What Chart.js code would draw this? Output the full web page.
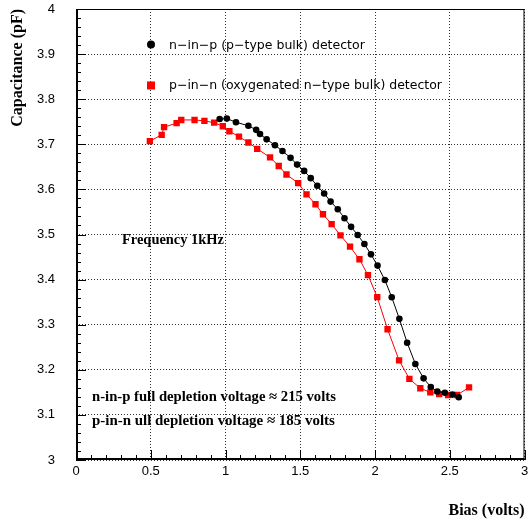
<!DOCTYPE html>
<html>
<head>
<meta charset="utf-8">
<script src="https://cdn.jsdelivr.net/npm/chart.js@4.4.0/dist/chart.umd.min.js"></script>
<style>
  html, body { margin: 0; padding: 0; background: #fff; overflow: hidden; }
  #wrap { width: 529px; height: 521px; position: relative; }
</style>
</head>
<body>
<div id="wrap"><canvas id="c"></canvas></div>
<script>
// ---------------- Data ----------------
const nInPBias = [0.961, 1.009, 1.070, 1.153, 1.205, 1.231, 1.275, 1.331, 1.381, 1.435,
  1.479, 1.526, 1.570, 1.614, 1.660, 1.703, 1.751, 1.796, 1.840, 1.884,
  1.929, 1.973, 2.017, 2.066, 2.112, 2.163, 2.215, 2.270, 2.325, 2.373,
  2.417, 2.467, 2.518, 2.560];
const nInPCap = [3.756, 3.757, 3.749, 3.741, 3.732, 3.723, 3.711, 3.698, 3.685, 3.670,
  3.655, 3.641, 3.625, 3.608, 3.591, 3.573, 3.556, 3.536, 3.517, 3.499,
  3.479, 3.456, 3.431, 3.399, 3.361, 3.313, 3.260, 3.213, 3.181, 3.162,
  3.152, 3.149, 3.145, 3.139];

const pInNBias = [0.494, 0.573, 0.589, 0.673, 0.704, 0.793, 0.859, 0.924, 0.982, 1.026,
  1.090, 1.153, 1.212, 1.298, 1.356, 1.408, 1.486, 1.542, 1.602, 1.652,
  1.710, 1.769, 1.833, 1.896, 1.953, 2.015, 2.084, 2.161, 2.230, 2.303,
  2.370, 2.429, 2.489, 2.549, 2.629];
const pInNCap = [3.707, 3.721, 3.738, 3.747, 3.754, 3.754, 3.752, 3.748, 3.740, 3.729,
  3.717, 3.704, 3.690, 3.671, 3.652, 3.633, 3.614, 3.589, 3.567, 3.545,
  3.523, 3.498, 3.473, 3.445, 3.410, 3.361, 3.290, 3.221, 3.180, 3.159,
  3.150, 3.146, 3.144, 3.144, 3.161];

const xMin = 0, xMax = 3, xStep = 0.5, xMinorStep = 0.1;
const yMin = 3, yMax = 4, yStep = 0.1, yMinorStep = 0.02;

const legendLabels = [
  'n\u2212in\u2212p (p\u2212type bulk) detector',
  'p\u2212in\u2212n (oxygenated n\u2212type bulk) detector'
];
const notes = [
  'Frequency 1kHz',
  'n-in-p full depletion voltage \u2248 215 volts',
  'p-in-n ull depletion voltage \u2248 185 volts'
];

function toPoints(xs, ys) {
  return xs.map((x, i) => ({ x: x, y: ys[i] }));
}

// draw text squeezed/stretched to a given width
function fitText(ctx, text, x, y, w, weight, family) {
  ctx.font = weight + ' 20px ' + family;
  const size = 20 * w / ctx.measureText(text).width;
  ctx.font = weight + ' ' + size.toFixed(2) + 'px ' + family;
  ctx.fillText(text, x, y);
}

// ---------------- frame, minor ticks, legend, notes ----------------
const decorPlugin = {
  id: 'decor',
  afterDraw(chart) {
    const { ctx, chartArea: a, scales: { x, y } } = chart;
    ctx.save();
    ctx.strokeStyle = '#000';
    ctx.lineWidth = 1;
    ctx.beginPath();
    const nx = Math.round((xMax - xMin) / xMinorStep);
    for (let i = 0; i <= nx; i++) {
      const px = Math.round(x.getPixelForValue(xMin + i * xMinorStep)) + 0.5;
      const len = i % 5 === 0 ? 10 : 5;
      ctx.moveTo(px, a.bottom);
      ctx.lineTo(px, a.bottom - len);
    }
    const ny = Math.round((yMax - yMin) / yMinorStep);
    for (let i = 0; i <= ny; i++) {
      const py = Math.round(y.getPixelForValue(yMin + i * yMinorStep)) + 0.5;
      const len = i % 5 === 0 ? 10 : 5;
      ctx.moveTo(a.left, py);
      ctx.lineTo(a.left + len, py);
    }
    ctx.stroke();

    // frame
    ctx.strokeRect(a.left + 0.5, a.top + 0.5, a.right - a.left - 1, a.bottom - a.top - 1);
    ctx.lineWidth = 2;
    ctx.beginPath();
    ctx.moveTo(a.left + 1, a.top);
    ctx.lineTo(a.left + 1, a.bottom - 1);
    ctx.lineTo(a.right, a.bottom - 1);
    ctx.stroke();

    // legend
    ctx.fillStyle = '#000';
    ctx.beginPath();
    ctx.arc(151, 44.5, 4, 0, Math.PI * 2);
    ctx.fill();
    ctx.fillStyle = '#ff0000';
    ctx.fillRect(147, 81.5, 8, 8);
    ctx.fillStyle = '#000';
    ctx.textBaseline = 'middle';
    ctx.textAlign = 'left';
    fitText(ctx, legendLabels[0], 169, 45.5, 196, 'normal', '"DejaVu Sans", sans-serif');
    fitText(ctx, legendLabels[1], 169, 86, 273, 'normal', '"DejaVu Sans", sans-serif');

    // notes
    fitText(ctx, notes[0], 122, 240, 102, 'bold', '"Liberation Serif", serif');
    fitText(ctx, notes[1], 92, 397.5, 244, 'bold', '"Liberation Serif", serif');
    fitText(ctx, notes[2], 92, 421.5, 243, 'bold', '"Liberation Serif", serif');
    ctx.restore();
  }
};

const tickFont = { family: '"Liberation Sans", Arial, sans-serif', size: 13 };
const titleFont = { family: '"Liberation Serif", serif', size: 16, weight: 'bold' };

new Chart(document.getElementById('c').getContext('2d'), {
  type: 'scatter',
  data: {
    datasets: [
      {
        label: legendLabels[0],
        data: toPoints(nInPBias, nInPCap),
        showLine: true,
        borderColor: '#000',
        backgroundColor: '#000',
        borderWidth: 1,
        pointStyle: 'circle',
        pointRadius: 3.3,
        pointBorderWidth: 0,
        order: 1
      },
      {
        label: legendLabels[1],
        data: toPoints(pInNBias, pInNCap),
        showLine: true,
        borderColor: '#ff0000',
        backgroundColor: '#ff0000',
        borderWidth: 1,
        pointStyle: 'rect',
        pointRadius: 4.5,
        pointBorderWidth: 0,
        order: 2
      }
    ]
  },
  options: {
    responsive: true,
    maintainAspectRatio: false,
    animation: false,
    layout: { padding: { top: 9, right: 2, left: 0, bottom: 0 } },
    plugins: {
      legend: { display: false },
      tooltip: { enabled: false }
    },
    scales: {
      x: {
        type: 'linear',
        min: xMin,
        max: xMax,
        afterFit: (s) => { s.height = 61; s.paddingLeft = 0; s.paddingRight = 0; },
        ticks: {
          stepSize: xStep,
          autoSkip: false,
          maxRotation: 0,
          padding: 4,
          color: '#000',
          font: tickFont,
          callback: (v) => String(+v.toFixed(1))
        },
        grid: { color: 'rgba(0,0,0,0.8)', lineWidth: 1, drawTicks: false },
        border: { display: false, dash: [1, 2] },
        title: {
          display: true,
          text: 'Bias (volts)',
          align: 'end',
          color: '#000',
          font: titleFont,
          padding: { top: 0, bottom: 1 }
        }
      },
      y: {
        type: 'linear',
        min: yMin,
        max: yMax,
        afterFit: (s) => { s.width = 76; s.paddingTop = 0; s.paddingBottom = 0; },
        ticks: {
          stepSize: yStep,
          padding: 21,
          color: '#000',
          font: tickFont,
          callback: (v) => String(+v.toFixed(1))
        },
        grid: { color: 'rgba(0,0,0,0.8)', lineWidth: 1, drawTicks: false },
        border: { display: false, dash: [1, 2] },
        title: {
          display: true,
          text: 'Capacitance (pF)',
          align: 'end',
          color: '#000',
          font: titleFont,
          padding: { top: 8, bottom: 0 }
        }
      }
    }
  },
  plugins: [decorPlugin]
});
</script>
</body>
</html>
